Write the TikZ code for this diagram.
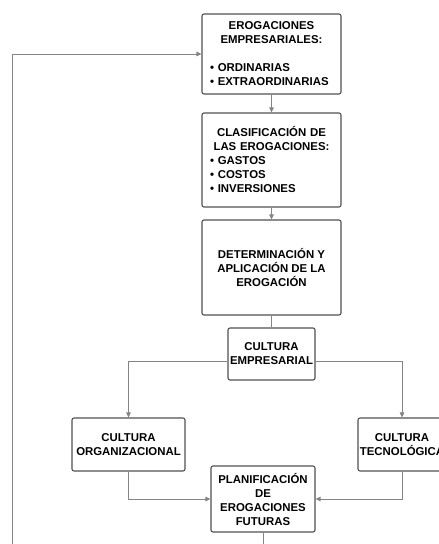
\documentclass[tikz,border=0pt]{standalone}
\usepackage{fontspec}
\setmainfont{Liberation Sans}
\usetikzlibrary{arrows.meta}
\usetikzlibrary{positioning}
\definecolor{borde}{HTML}{505050}
\definecolor{linea}{HTML}{858585}

\begin{document}
\begin{tikzpicture}[x=1pt, y=-1pt, line width=0.9pt]
		\tikzset{>={Triangle[length=5pt,width=4.5pt]}}
		\tikzset{caja/.style={rectangle, rounded corners=2pt, draw=borde, line width=1.1pt, fill=white, inner xsep=1pt, inner ysep=2pt, align=center, font=\fontsize{11.4}{14}\selectfont\bfseries}}
		\tikzset{flecha/.style={->, draw=linea}}
		\useasboundingbox (0,0) rectangle (439,544);
		\fill[white] (0,0) rectangle (439,544);

		\node[caja, minimum width=139, minimum height=80, text width=123, align=left] (ero) at (271.5,54) {\makebox[\linewidth]{EROGACIONES}\\ \makebox[\linewidth]{EMPRESARIALES:}\\[14pt] \textbullet\ ORDINARIAS\\ \textbullet\ EXTRAORDINARIAS};
		\node[caja, minimum width=139, minimum height=94, text width=123, align=left] (clas) at (271.5,160) {\makebox[\linewidth]{CLASIFICACIÓN DE}\\ \makebox[\linewidth]{LAS EROGACIONES:}\\ \textbullet\ GASTOS\\ \textbullet\ COSTOS\\ \textbullet\ INVERSIONES};
		\node[caja, minimum width=139, minimum height=95] (det) at (271.5,267.5) {DETERMINACIÓN Y\\APLICACIÓN DE LA\\EROGACIÓN};
		\node[caja, minimum width=87, minimum height=52] (emp) at (271.5,354) {CULTURA\\EMPRESARIAL};
		\node[caja, minimum width=113, minimum height=53] (org) at (128.5,444.5) {CULTURA\\ORGANIZACIONAL};
		\node[caja, minimum width=88, minimum height=53] (tec) at (402,444.5) {CULTURA\\TECNOLÓGICA};
		\node[caja, minimum width=104, minimum height=66] (plan) at (263,499) {PLANIFICACIÓN\\DE\\EROGACIONES\\FUTURAS};
		\coordinate (retorno) at (12,570);

		\draw[flecha] (ero) -- (clas);
		\draw[flecha] (clas) -- (det);
		\draw[linea] (det) -- (emp);
		\draw[flecha] ([yshift=-7pt]emp.west) -| (org.north);
		\draw[flecha] ([yshift=-7pt]emp.east) -| (tec.north);
		\draw[flecha] (org.south) |- (plan.west);
		\draw[flecha] (tec.south) |- (plan.east);
		%% lazo de retorno hacia las erogaciones
		\draw[flecha] (plan.south) |- (retorno) |- (ero.west);
	\end{tikzpicture}
\end{document}
